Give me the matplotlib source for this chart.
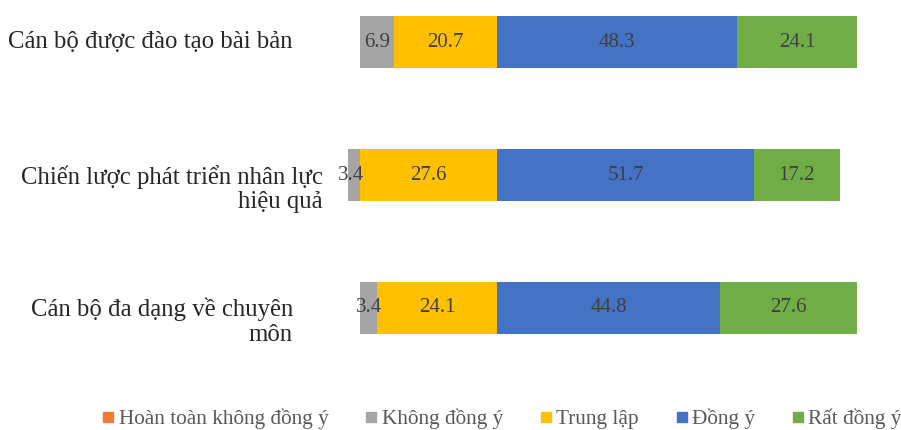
import numpy as np
import matplotlib.pyplot as plt
from matplotlib.lines import Line2D

plt.rcParams['font.family'] = ['Liberation Serif', 'DejaVu Serif']

# Dữ liệu (%)
categories = ['Cán bộ được đào tạo bài bản',
              'Chiến lược phát triển nhân lực\nhiệu quả',
              'Cán bộ đa dạng về chuyên\nmôn']
hoan_toan_khong = [0.0, 0.0, 0.0]
khong_dong_y = [6.9, 3.4, 3.4]
trung_lap = [20.7, 27.6, 24.1]
dong_y = [48.3, 51.7, 44.8]
rat_dong_y = [24.1, 17.2, 27.6]

series_names = ['Hoàn toàn không đồng ý', 'Không đồng ý', 'Trung lập', 'Đồng ý', 'Rất đồng ý']
colors = ['#ED7D31', '#A5A5A5', '#FFC000', '#4472C4', '#70AD47']

fig = plt.figure(figsize=(9.01, 4.30), dpi=100)
ax = fig.add_axes([348 / 901, 80 / 430, (870 - 348) / 901, 350 / 430])

y = np.arange(len(categories))
h = 0.39

# phía âm: Trung lập sát trục, rồi Không đồng ý, rồi Hoàn toàn không đồng ý
tl = np.array(trung_lap)
kd = np.array(khong_dong_y)
hk = np.array(hoan_toan_khong)
dy = np.array(dong_y)
rd = np.array(rat_dong_y)

segs = [
    (hk, -(tl + kd + hk), colors[0]),
    (kd, -(tl + kd), colors[1]),
    (tl, -tl, colors[2]),
    (dy, np.zeros(3), colors[3]),
    (rd, dy, colors[4]),
]
for vals, left, c in segs:
    ax.barh(y, vals, left=left, height=h, color=c)
    for yi, v, l in zip(y, vals, left):
        if v > 0:
            ax.text(l + v / 2, yi, f'{v:.1f}', ha='center', va='center',
                    fontsize=15, color='#404040', family='Liberation Serif')

ax.set_xlim(-30, 75)
ax.set_ylim(2 + 42 / 133, -42 / 133)
ax.axis('off')

# nhãn danh mục, căn phải
label_right = [293, 323, 293]
for yi, lab, xr in zip(y, categories, label_right):
    ypx = 42 + 133 * yi + (14 if '\n' in lab else 0)
    fig.text(xr / 901, 1 - ypx / 430, lab, ha='right', va='center',
             fontsize=17.8, color='#262626', linespacing=1.15,
             family='Liberation Serif')

handles = [Line2D([0], [0], marker='s', linestyle='', markersize=7.5,
                  markerfacecolor=c, markeredgecolor=c) for c in colors]
fig.legend(handles, series_names, loc='center left', bbox_to_anchor=(103 / 901, 1 - 419 / 430),
           ncol=5, frameon=False, prop={'family': 'Liberation Serif', 'size': 15.3},
           handlelength=0.5, handletextpad=0.25, columnspacing=1.75,
           borderpad=0, borderaxespad=0, labelcolor='#595959')

fig.savefig('out.png', dpi=100)
